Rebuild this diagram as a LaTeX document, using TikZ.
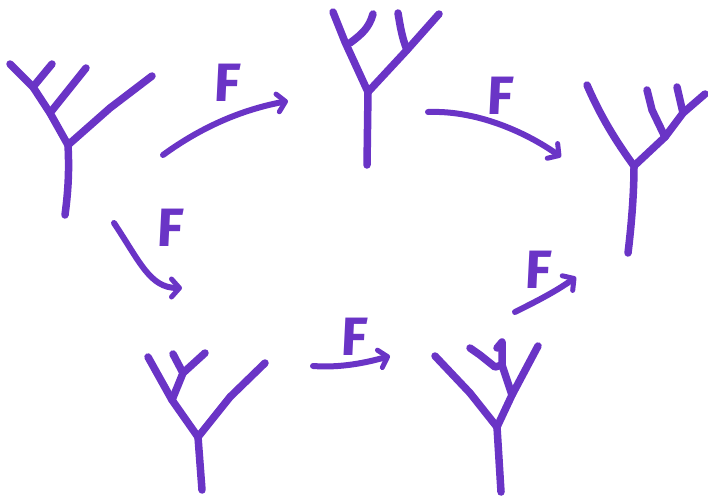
\documentclass[tikz,border=0pt]{standalone}
\usepackage{fontspec}
\setmainfont{Fira Sans}
\usetikzlibrary{arrows.meta}
\definecolor{marker}{RGB}{106,52,198}
\tikzset{
  tree/.style={draw=marker, line width=7.5pt, line cap=round, line join=round},
  arr/.style={draw=marker, line width=6pt, line cap=round, line join=round,
    -{Straight Barb[length=8pt, width=18pt, line width=5pt, round]}},
  flabel/.style={text=marker, font=\fontsize{54}{54}\selectfont\bfseries, inner sep=0pt, xslant=0.05}
}
\begin{document}
\begin{tikzpicture}[x=1pt, y=-1pt]
\useasboundingbox (0,0) rectangle (708,495);

% upper left tree
\draw[tree] (65,215) .. controls (69,185) and (69,165) .. (68,145);
\draw[tree] (68,145) -- (110,108) -- (152,76);
\draw[tree] (68,145) -- (50,113) -- (33,87) -- (10,64);
\draw[tree] (50,113) -- (86,68);
\draw[tree] (33,87) -- (52,64);

% upper middle tree
\draw[tree] (367,165) -- (368,92);
\draw[tree] (368,92) -- (345,42) -- (333,12);
\draw[tree] (350,43) .. controls (362,34) and (369,28) .. (373,14);
\draw[tree] (368,92) -- (407,50) -- (439,14);
\draw[tree] (407,50) .. controls (402,38) and (400,25) .. (398,13);

% upper right tree
\draw[tree] (628,253) .. controls (632,220) and (634,190) .. (634,166);
\draw[tree] (634,166) .. controls (615,140) and (600,115) .. (587,85);
\draw[tree] (634,166) -- (665,137) -- (683,113) -- (705,94);
\draw[tree] (665,137) -- (652,110) -- (647,90);
\draw[tree] (683,113) -- (677,87);

% lower left tree
\draw[tree] (202,490) -- (198,437);
\draw[tree] (198,437) -- (230,397) -- (265,363);
\draw[tree] (198,437) -- (172,400) -- (148,357);
\draw[tree] (172,400) -- (183,373) -- (205,353);
\draw[tree] (183,373) -- (173,354);

% lower middle tree
\draw[tree] (501,492) -- (497,427);
\draw[tree] (497,427) -- (470,393) -- (435,356);
\draw[tree] (497,427) -- (512,395) -- (538,346);
\draw[tree] (512,395) -- (502,365) -- (502,342) -- (497,348);
\draw[tree] (502,365) -- (495,367) -- (480,355) -- (470,348);

% arrow end points
\coordinate (a1s) at (163,155);
\coordinate (a1e) at (288,101);
\coordinate (a2s) at (428,112);
\coordinate (a2e) at (561,157);
\coordinate (a3s) at (114,223);
\coordinate (a3e) at (182,288);
\coordinate (a4s) at (313,366);
\coordinate (a4e) at (390,356);
\coordinate (a5s) at (515,312);
\coordinate (a5e) at (576,277);

% arrows
\draw[arr] (a1s) .. controls (200,128) and (240,110) .. (a1e);
\draw[arr] (a2s) .. controls (480,110) and (530,135) .. (a2e);
\draw[arr] (a3s) .. controls (140,262) and (150,288) .. (a3e);
\draw[arr] (a4s) .. controls (340,368) and (365,363) .. (a4e);
\draw[arr] (a5s) .. controls (535,302) and (555,292) .. (a5e);

% labels
\node[flabel] (f1) at (228,83) {F};
\node[flabel] (f2) at (501,96) {F};
\node[flabel] (f3) at (171,228) {F};
\node[flabel] (f4) at (355,337) {F};
\node[flabel] (f5) at (539,270) {F};
\end{tikzpicture}
\end{document}
